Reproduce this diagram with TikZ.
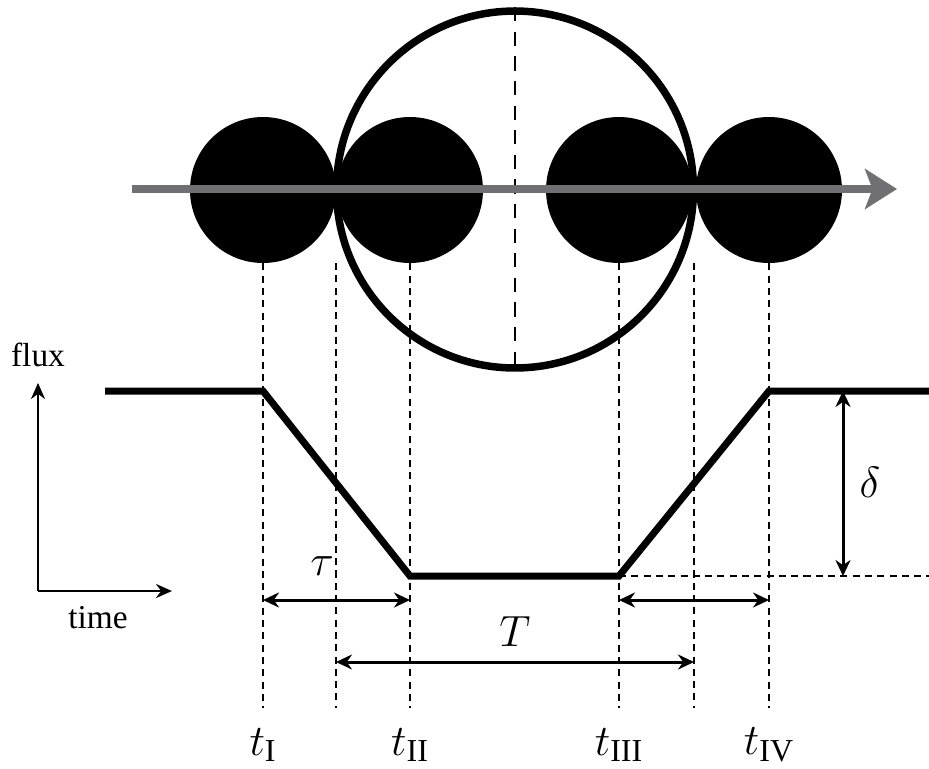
\documentclass[tikz,border=0pt]{standalone}
\usepackage{fontspec}
\setmainfont{Liberation Serif}
\usetikzlibrary{arrows.meta,positioning}
\definecolor{orbitgray}{RGB}{112,112,116}

\begin{document}
\begin{tikzpicture}[
    x=0.02cm, y=-0.02cm,
    every node/.style={font=\fontsize{19}{21}\selectfont, inner sep=0pt},
    planet/.style={circle, fill=black, minimum size=2.92cm},
    stardisk/.style={circle, draw, line width=0.15cm, minimum size=7.14cm},
    guide/.style={line width=0.65pt, dash pattern=on 4pt off 3pt},
    centreguide/.style={line width=0.8pt, dash pattern=on 8pt off 6pt},
    lightcurve/.style={line width=0.14cm, line join=miter},
    span/.style={{Stealth[length=0.32cm, width=0.3cm]}-{Stealth[length=0.32cm, width=0.3cm]}, line width=1.7pt},
    axis/.style={-{Stealth[length=0.32cm, width=0.28cm]}, line width=1.6pt},
    orbit/.style={-{Stealth[length=0.64cm, width=0.8cm, inset=0.15cm]}, line width=0.16cm, draw=orbitgray},
    mathlabel/.style={font=\fontsize{26}{28}\selectfont}
]
\useasboundingbox (0,0) rectangle (929,768);

% star and planet positions
\node[stardisk] (star) at (515,189.5) {};
\node[planet] (p1) at (263,190) {};
\node[planet] (p2) at (410,190) {};
\node[planet] (p3) at (619,190) {};
\node[planet] (p4) at (769,190) {};
\draw[centreguide] (star.north) -- (star.south);

% light curve
\coordinate (f0) at (105,391);
\coordinate (f1) at (263,391);
\coordinate (f2) at (410,576);
\coordinate (f3) at (619,576);
\coordinate (f4) at (769,391);
\coordinate (f5) at (929,391);
\draw[lightcurve] (f0) -- (f1) -- (f2) -- (f3) -- (f4) -- (f5);

% contact guides
\coordinate (k2top) at (336,263);
\coordinate (k3top) at (694,263);
\coordinate (b1) at (263,708);
\coordinate (b2) at (336,708);
\coordinate (b3) at (410,708);
\coordinate (b4) at (619,708);
\coordinate (b5) at (694,708);
\coordinate (b6) at (769,708);
\draw[guide] (p1.south) -- (b1);
\draw[guide] (k2top) -- (b2);
\draw[guide] (p2.south) -- (b3);
\draw[guide] (p3.south) -- (b4);
\draw[guide] (k3top) -- (b5);
\draw[guide] (p4.south) -- (b6);
\coordinate (floor) at (929,576);
\draw[guide] (f3) -- (floor);

% orbit direction
\coordinate (orbitstart) at (132,189);
\coordinate (orbitend) at (897,189);
\draw[orbit] (orbitstart) -- (orbitend);

% durations and depth
\coordinate (d1) at (843,391);
\coordinate (d2) at (843,576);
\draw[span] (d1) -- (d2);
\node[mathlabel] (depth) at (870,482) {$\delta$};

\coordinate (s1) at (263,600);
\coordinate (s2) at (410,600);
\draw[span] (s1) -- (s2);
\node[mathlabel] (ingress) at (322,566) {$\tau$};

\coordinate (s3) at (619,600);
\coordinate (s4) at (769,600);
\draw[span] (s3) -- (s4);

\coordinate (s5) at (336,662);
\coordinate (s6) at (694,662);
\draw[span] (s5) -- (s6);
\node[mathlabel] (total) at (515,632) {$T$};

% contact labels
\node[mathlabel] (tI) at (263,745) {$t_{\mathrm{I}}$};
\node[mathlabel] (tII) at (410,745) {$t_{\mathrm{II}}$};
\node[mathlabel] (tIII) at (619,745) {$t_{\mathrm{III}}$};
\node[mathlabel] (tIV) at (769,745) {$t_{\mathrm{IV}}$};

% axes
\coordinate (origin) at (38,591);
\coordinate (fluxtip) at (38,383);
\coordinate (timetip) at (172,591);
\draw[axis] (origin) -- (fluxtip);
\draw[axis] (origin) -- (timetip);
\node (fluxlabel) at (38,355) {flux};
\node (timelabel) at (98,618) {time};
\end{tikzpicture}
\end{document}
